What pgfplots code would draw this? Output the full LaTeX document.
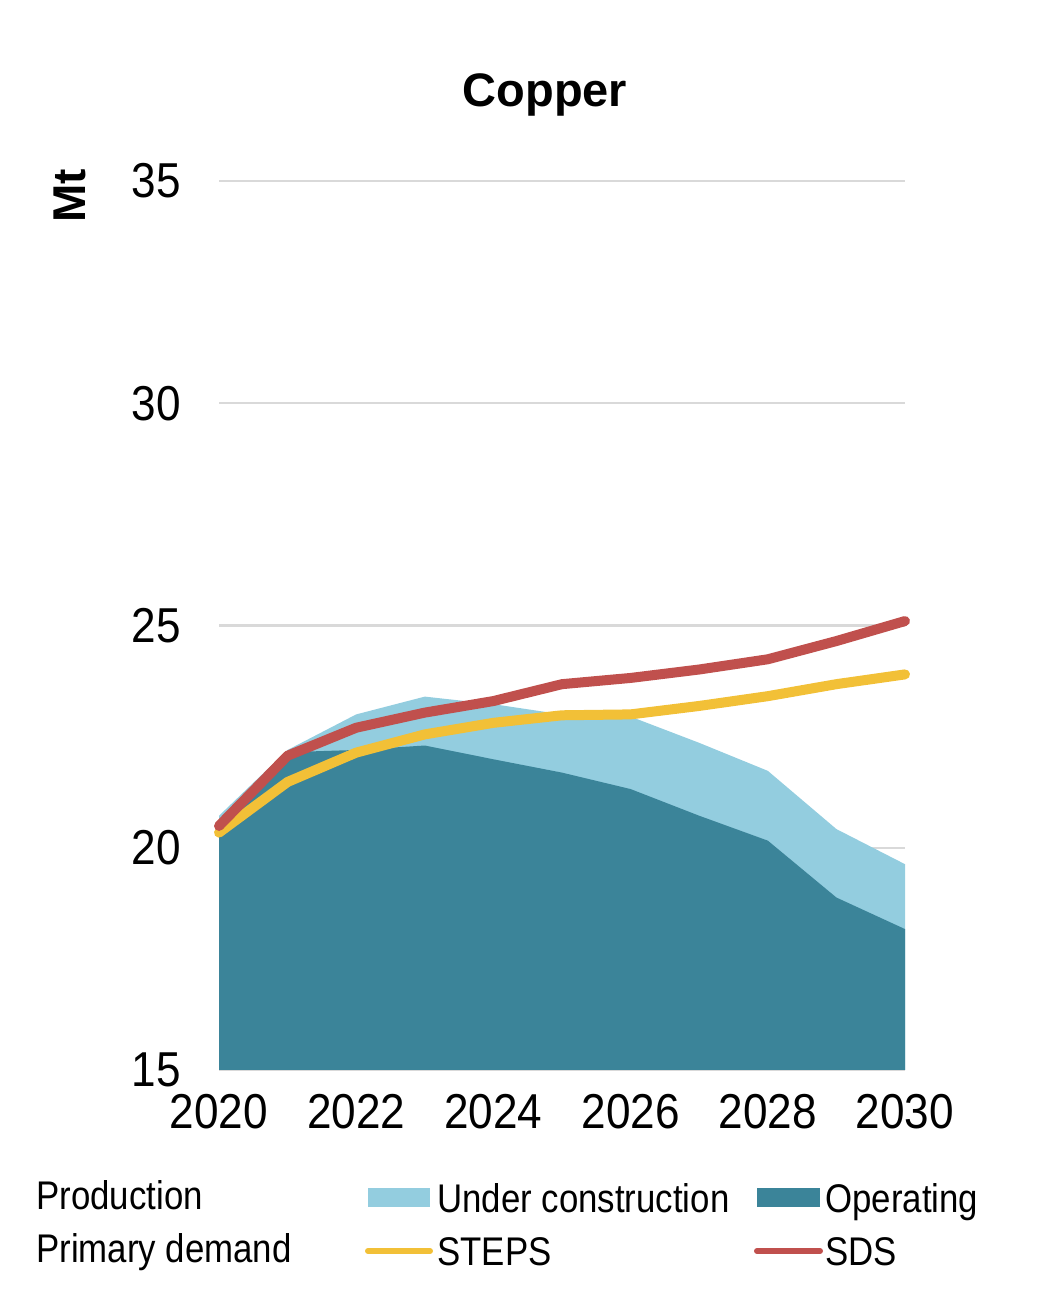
\documentclass[border=0pt]{standalone}
\usepackage{fontspec}
\setmainfont{Liberation Sans}
\newfontfamily\tickfont{Liberation Sans}[FakeStretch=0.9]
\newfontfamily\legfont{Liberation Sans}[FakeStretch=0.87]
\usepackage{pgfplots}
\pgfplotsset{compat=1.18}
\definecolor{ucblue}{HTML}{93CDDF}
\definecolor{opteal}{HTML}{3B8499}
\definecolor{stepsyel}{HTML}{F2C037}
\definecolor{sdsred}{HTML}{C0504D}
\begin{document}
\begin{tikzpicture}
\useasboundingbox (-109.5pt,-112pt) rectangle (416.5pt,535pt);
\begin{axis}[
  at={(0,0)}, anchor=south west,
  scale only axis, width=343pt, height=444.5pt,
  xmin=2020, xmax=2030, ymin=15, ymax=35,
  xtick={2020,2022,...,2030}, ytick={15,20,...,35},
  /pgf/number format/1000 sep={},
  /pgf/number format/assume math mode=true,
  tick label style={font=\tickfont\fontsize{24.5}{24.5}\selectfont},
  yticklabel style={anchor=east, inner sep=0pt, xshift=-19pt},
  xticklabel style={anchor=north, inner sep=0pt, yshift=-12pt},
  axis line style={draw=none}, tick style={draw=none},
  ymajorgrids, major grid style={draw=gray!30, line width=1.2pt},
  clip=false,
]
% Total production (operating + under construction)
\addplot[draw=none, fill=ucblue] coordinates {
 (2020,20.72) (2021,22.2) (2022,23.0) (2023,23.4) (2024,23.23) (2025,23.0)
 (2026,22.95) (2027,22.36) (2028,21.73) (2029,20.42) (2030,19.63)} \closedcycle;
% Operating
\addplot[draw=none, fill=opteal] coordinates {
 (2020,20.55) (2021,22.15) (2022,22.2) (2023,22.3) (2024,21.99) (2025,21.69)
 (2026,21.32) (2027,20.72) (2028,20.16) (2029,18.88) (2030,18.17)} \closedcycle;
% STEPS
\addplot[stepsyel, line width=5pt, line join=round, line cap=round] coordinates {
 (2020,20.34) (2021,21.48) (2022,22.14) (2023,22.55) (2024,22.81) (2025,22.98)
 (2026,23.0) (2027,23.19) (2028,23.41) (2029,23.68) (2030,23.9)};
% SDS
\addplot[sdsred, line width=5pt, line join=round, line cap=round] coordinates {
 (2020,20.49) (2021,22.07) (2022,22.7) (2023,23.04) (2024,23.3) (2025,23.68)
 (2026,23.82) (2027,24.01) (2028,24.24) (2029,24.65) (2030,25.1)};
\end{axis}
\node[font=\bfseries\fontsize{23.5}{23.5}\selectfont] at (163pt,487.5pt) {Copper};
\node[font=\bfseries\fontsize{23}{23}\selectfont, rotate=90] at (-74.5pt,437pt) {Mt};
\begin{scope}[every node/.style={font=\legfont\fontsize{20}{20}\selectfont, inner sep=0pt}]
\node[anchor=base west] at (-91.5pt,-69.5pt) {Production};
\node[anchor=base west] at (-91.5pt,-96pt) {Primary demand};
\fill[ucblue] (74.5pt,-59pt) rectangle (105.5pt,-68.5pt);
\node[anchor=base west] at (109pt,-71pt) {Under construction};
\fill[opteal] (269pt,-59pt) rectangle (300.5pt,-68.5pt);
\node[anchor=base west] at (303pt,-71pt) {Operating};
\draw[stepsyel, line width=3pt, line cap=round] (74.5pt,-90.5pt) -- (105.5pt,-90.5pt);
\node[anchor=base west] at (109pt,-97.5pt) {STEPS};
\draw[sdsred, line width=3pt, line cap=round] (269pt,-90.5pt) -- (300.5pt,-90.5pt);
\node[anchor=base west] at (303pt,-97.5pt) {SDS};
\end{scope}
\end{tikzpicture}
\end{document}
